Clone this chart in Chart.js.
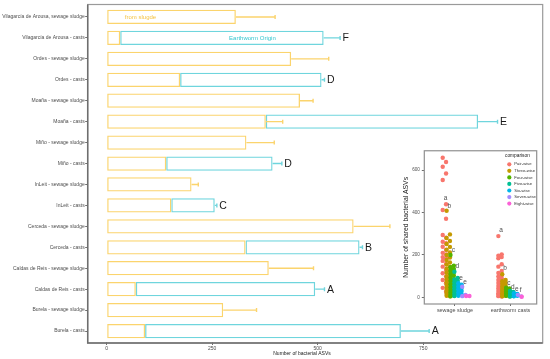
<!DOCTYPE html>
<html lang="en">
<head>
<meta charset="UTF-8" />
<title>Bacterial ASVs in casts and sewage sludge</title>
<script src="https://cdn.jsdelivr.net/npm/chart.js@4.4.1/dist/chart.umd.min.js"></script>
<style>
  body { margin: 0; background: #fff; }
  .wrap { position: relative; width: 550px; height: 359px; }
  #mainChart { position: absolute; left: 0; top: 0; }
  #insetChart { position: absolute; left: 398px; top: 146px; }
</style>
</head>
<body>
<div class="wrap">
  <canvas id="mainChart" width="550" height="359"></canvas>
  <canvas id="insetChart" width="143" height="172"></canvas>
</div>
<script>
// ---- main bar chart data (top to bottom) ----
const sites = [
  'Vilagarcía de Arousa, sewage sludge', 'Vilagarcía de Arousa - casts',
  'Ordes - sewage sludge', 'Ordes - casts',
  'Moaña - sewage sludge', 'Moaña - casts',
  'Miño - sewage sludge', 'Miño - casts',
  'InLeit - sewage sludge', 'InLeit - casts',
  'Cerceda - sewage sludge', 'Cerceda - casts',
  'Caldas de Reis - sewage sludge', 'Caldas de Reis - casts',
  'Burela - sewage sludge', 'Burela - casts'
];
const fromSludge      = [306, 32, 437, 174, 458, 377, 331, 141, 201, 153, 585, 329, 384, 69, 276, 91];
const earthwormOrigin = [null, 482, null, 335, null, 503, null, 252, null, 103, null, 270, null, 425, null, 606];
const errorEnd        = [399, 553, 526, 516, 489, 926, 397, 415, 217, 261, 671, 606, 490, 516, 355, 764];
const sludgeErrorEnd  = [null, null, null, null, null, 417, null, null, null, null, null, null, null, null, null, null];
const groupLetters    = ['', 'F', '', 'D', '', 'E', '', 'D', '', 'C', '', 'B', '', 'A', '', 'A'];
const xTicks = [0, 250, 500, 750];

// ---- inset data: shared ASVs per comparison ----
const insetCategories = ['sewage sludge', 'earthworm casts'];
const comparisons = ['Pair-wise', 'Three-wise', 'Four-wise', 'Five-wise', 'Six-wise', 'Seven-wise', 'Eight-wise'];
const pairSludge  = [658, 638, 616, 584, 553, 439, 412, 371, 294, 281, 262, 255, 239, 224, 210, 203, 190, 184, 172, 158, 145, 129, 114, 98, 82, 67, 45, 27];
const threeSludge = [408, 297, 280, 266, 252, 238, 225, 212, 200, 188, 176, 165, 155, 145, 135, 126, 117, 108, 100, 92, 85, 78, 71, 64, 58, 52, 46, 40, 35, 30, 25, 20, 16, 12, 8, 5];
const fourSludge  = [200, 150, 142, 134, 126, 118, 110, 102, 94, 86, 78, 70, 62, 55, 48, 41, 35, 29, 23, 18, 13, 9, 5];
const fiveSludge  = [121, 92, 85, 78, 71, 64, 57, 50, 43, 36, 30, 24, 18, 12, 7];
const sixSludge   = [67, 60, 52, 45, 38, 30, 22, 15, 8];
const sevenSludge = [50, 12, 6];
const eightSludge = [7, 7];
const pairCasts   = [289, 203, 196, 190, 184, 156, 145, 125, 115, 105, 98, 90, 82, 75, 68, 60, 54, 48, 42, 36, 30, 25, 20, 15, 12, 9, 6, 4];
const threeCasts  = [109, 82, 76, 70, 64, 58, 52, 46, 40, 35, 30, 25, 20, 16, 12, 8, 5];
const fourCasts   = [46, 42, 37, 32, 27, 22, 17, 12, 8, 5];
const fiveCasts   = [31, 26, 21, 16, 11, 7, 4];
const sixCasts    = [20, 16, 12, 8, 5];
const sevenCasts  = [12, 5];
const eightCasts  = [3];
const sludgeLetters  = ['a', 'b', 'c', 'd', 'e', 'e', ''];
const sludgeLetterAt = [467, 430, 224, 145, 90, 70, null];
const castsLetters   = ['a', 'b', 'c', 'd', 'e', 'f', ''];
const castsLetterAt  = [318, 140, 65, 46, 39, 35, null];
const insetYTicks = [0, 200, 400, 600];

const orange = '#fbd46d';
const cyan = '#6fd5dd';
const ink = '#4d4d4d';
const groupColors = ['#F8766D', '#C49A00', '#53B400', '#00C094', '#00B6EB', '#A58AFF', '#FB61D7'];
const FONT = '"Liberation Sans", Arial, Helvetica, sans-serif';
Chart.defaults.font.family = FONT;

function drawErr(ctx, x0, x1, yc, color) {
  ctx.strokeStyle = color;
  ctx.lineWidth = 1.4;
  ctx.beginPath();
  ctx.moveTo(x0, yc); ctx.lineTo(x1, yc);
  ctx.moveTo(x1, yc - 2); ctx.lineTo(x1, yc + 2);
  ctx.stroke();
}

const mainDecor = {
  id: 'mainDecor',
  afterDatasetsDraw(chart) {
    const { ctx, scales: { x, y } } = chart;
    ctx.save();
    sites.forEach((s, i) => {
      const yc = y.getPixelForValue(i);
      const cast = earthwormOrigin[i] != null;
      const end = fromSludge[i] + (cast ? earthwormOrigin[i] : 0);
      drawErr(ctx, x.getPixelForValue(end), x.getPixelForValue(errorEnd[i]), yc, cast ? cyan : orange);
      if (sludgeErrorEnd[i] != null) {
        drawErr(ctx, x.getPixelForValue(fromSludge[i]), x.getPixelForValue(sludgeErrorEnd[i]), yc, orange);
      }
      if (groupLetters[i]) {
        ctx.fillStyle = '#1a1a1a';
        ctx.font = '10.5px ' + FONT;
        ctx.textBaseline = 'middle';
        ctx.textAlign = 'left';
        ctx.fillText(groupLetters[i], x.getPixelForValue(errorEnd[i]) + 2.5, yc + 0.5);
      }
    });
    // annotations inside the first two bars
    ctx.font = '6px ' + FONT;
    ctx.textBaseline = 'middle';
    ctx.fillStyle = '#f5c444';
    ctx.fillText('from slugde', x.getPixelForValue(43), y.getPixelForValue(0));
    ctx.fillStyle = '#33c6cf';
    ctx.fillText('Earthworm Origin', x.getPixelForValue(290), y.getPixelForValue(1));
    ctx.restore();
  },
  afterDraw(chart) {
    const { ctx, chartArea: a } = chart;
    ctx.save();
    ctx.strokeStyle = '#9a9a9a';
    ctx.lineWidth = 1.2;
    ctx.strokeRect(a.left, a.top - 2, a.right - a.left, a.bottom - a.top + 3.5);
    ctx.strokeStyle = '#6e6e6e';
    ctx.lineWidth = 1.5;
    ctx.beginPath();
    ctx.moveTo(a.left, a.top - 2); ctx.lineTo(a.left, a.bottom + 1.5); ctx.lineTo(a.right, a.bottom + 1.5);
    ctx.stroke();
    ctx.fillStyle = '#1a1a1a';
    ctx.font = '5px ' + FONT;
    ctx.textAlign = 'center';
    ctx.textBaseline = 'middle';
    ctx.fillText('Number of bacterial ASVs', 302, 354);
    ctx.restore();
  }
};

new Chart(document.getElementById('mainChart'), {
  type: 'bar',
  data: {
    labels: sites,
    datasets: [
      { label: 'from sludge', data: fromSludge, borderColor: orange },
      { label: 'Earthworm Origin', data: earthwormOrigin, borderColor: cyan }
    ].map(d => Object.assign(d, {
      backgroundColor: 'rgba(255,255,255,0)', borderWidth: 1.3, borderSkipped: false,
      barPercentage: 0.683, categoryPercentage: 1
    }))
  },
  options: {
    indexAxis: 'y',
    responsive: false,
    animation: false,
    layout: { padding: { top: 6.5, right: 7.3, left: 0, bottom: 0 } },
    plugins: { legend: { display: false }, tooltip: { enabled: false } },
    scales: {
      x: {
        type: 'linear', stacked: true, min: -45, max: 1033,
        afterBuildTicks: ax => { ax.ticks = xTicks.map(v => ({ value: v })); },
        afterFit: ax => { ax.height = 17.5; },
        grid: { drawOnChartArea: false, tickLength: 3.5, color: '#6e6e6e' },
        border: { display: false },
        ticks: { font: { size: 5 }, color: ink, padding: 1, maxRotation: 0 }
      },
      y: {
        stacked: true,
        afterFit: ax => { ax.width = 87.7; },
        grid: { drawOnChartArea: false, offset: false, tickLength: 2.5, color: '#6e6e6e' },
        border: { display: false },
        ticks: { font: { size: 5 }, color: ink, padding: 0.5, autoSkip: false }
      }
    }
  },
  plugins: [mainDecor]
});

// ---- inset dot plot ----
const sludgeGroups = [pairSludge, threeSludge, fourSludge, fiveSludge, sixSludge, sevenSludge, eightSludge];
const castsGroups  = [pairCasts, threeCasts, fourCasts, fiveCasts, sixCasts, sevenCasts, eightCasts];
const dodge = g => (g - 2.7) * 0.07;
const jit = k => (k % 2 ? 0.03 : -0.03);

const insetDecor = {
  id: 'insetDecor',
  afterDatasetsDraw(chart) {
    const { ctx, chartArea: a, scales: { x, y } } = chart;
    ctx.save();
    ctx.fillStyle = ink;
    ctx.font = '6.5px ' + FONT;
    ctx.textAlign = 'center';
    ctx.textBaseline = 'middle';
    [[sludgeLetters, sludgeLetterAt], [castsLetters, castsLetterAt]].forEach(([letters, at], c) => {
      letters.forEach((l, g) => {
        if (l) ctx.fillText(l, x.getPixelForValue(c + 1 + dodge(g) + 0.02), y.getPixelForValue(at[g]));
      });
    });
    // legend
    ctx.textAlign = 'left';
    ctx.fillStyle = '#1a1a1a';
    ctx.font = '4.8px ' + FONT;
    ctx.fillText('comparison', 107, 10);
    comparisons.forEach((name, g) => {
      const ly = 18.3 + g * 6.55;
      ctx.fillStyle = groupColors[g];
      ctx.beginPath(); ctx.arc(111.3, ly, 2.1, 0, Math.PI * 2); ctx.fill();
      ctx.fillStyle = '#333';
      ctx.font = '4.2px ' + FONT;
      ctx.fillText(name, 116.3, ly);
    });
    ctx.strokeStyle = '#909090';
    ctx.lineWidth = 1.2;
    ctx.strokeRect(a.left, a.top, a.right - a.left, a.bottom - a.top);
    ctx.restore();
  }
};

new Chart(document.getElementById('insetChart'), {
  type: 'scatter',
  data: {
    datasets: comparisons.map((name, g) => ({
      label: name,
      order: comparisons.length - g,
      data: sludgeGroups[g].map((v, k) => ({ x: 1 + dodge(g) + jit(k), y: v }))
        .concat(castsGroups[g].map((v, k) => ({ x: 2 + dodge(g) + jit(k), y: v }))),
      backgroundColor: groupColors[g],
      borderWidth: 0,
      pointRadius: 2.2
    }))
  },
  options: {
    responsive: false,
    animation: false,
    layout: { padding: { top: 4.7, right: 4.3, left: 0, bottom: 0 } },
    plugins: { legend: { display: false }, tooltip: { enabled: false } },
    scales: {
      x: {
        type: 'linear', min: 0.45, max: 2.47,
        afterBuildTicks: ax => { ax.ticks = insetCategories.map((c, i) => ({ value: i + 1 })); },
        afterFit: ax => { ax.height = 14; },
        grid: { drawOnChartArea: false, tickLength: 2, color: '#6e6e6e' },
        border: { display: false },
        ticks: { callback: v => insetCategories[v - 1], font: { size: 5.4 }, color: ink, padding: 1, maxRotation: 0, autoSkip: false }
      },
      y: {
        min: -31, max: 691,
        afterBuildTicks: ax => { ax.ticks = insetYTicks.map(v => ({ value: v })); },
        afterFit: ax => { ax.width = 26.3; },
        grid: { drawOnChartArea: false, tickLength: 2.5, color: '#6e6e6e' },
        border: { display: false },
        ticks: { font: { size: 4.6 }, color: ink, padding: 2 },
        title: { display: true, text: 'Number of shared bacterial ASVs', font: { size: 6.8 }, color: '#1a1a1a', padding: { top: 4.5, bottom: 0 } }
      }
    }
  },
  plugins: [insetDecor]
});
</script>
</body>
</html>
